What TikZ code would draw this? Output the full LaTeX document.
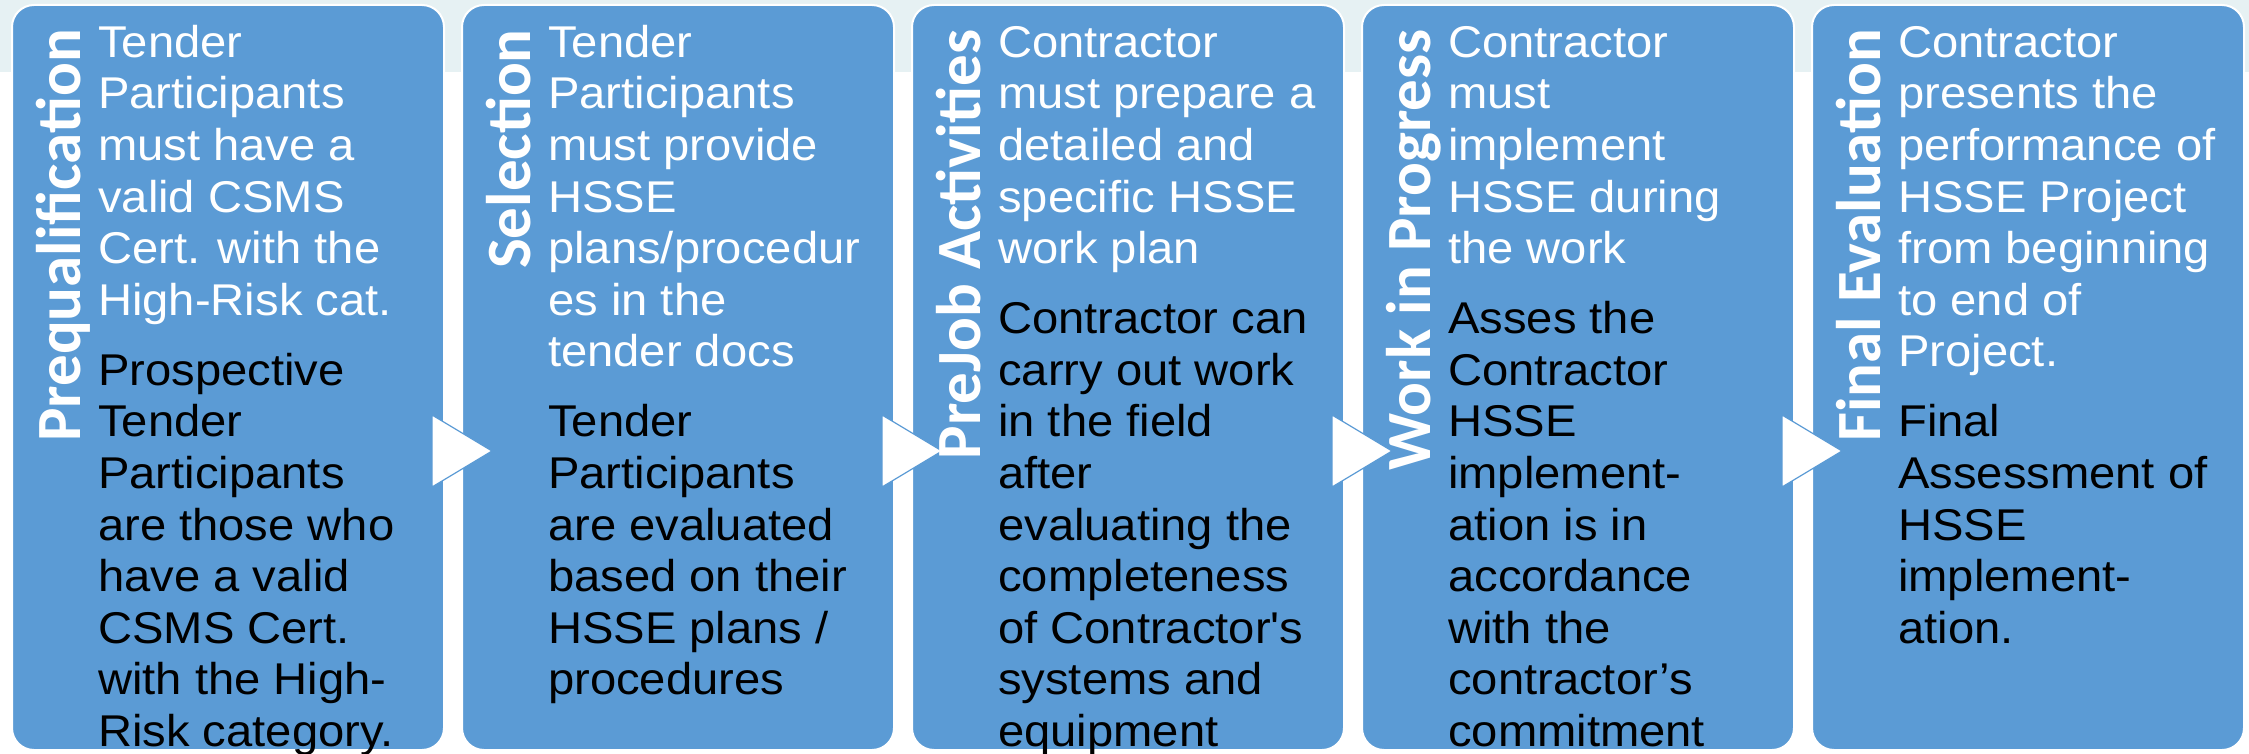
\documentclass[tikz,border=0pt]{standalone}
\usepackage{fontspec}
\setmainfont{Liberation Sans}[FakeStretch=1.06]
\newfontfamily\titlefont{Carlito}
\usetikzlibrary{positioning}
\definecolor{stageblue}{HTML}{5B9BD5}
\definecolor{bandgray}{HTML}{E6F1F3}
\tikzset{
    x=1pt, y=1pt,
    stage/.style={draw=white, line width=2pt, fill=stageblue, rounded corners=22pt,
        minimum width=432pt, minimum height=745pt, inner sep=0pt, outer sep=0pt},
    stagetitle/.style={rotate=90, anchor=base east, inner sep=0pt, text=white,
        font=\titlefont\bfseries\fontsize{63}{72}\selectfont},
    todo/.style={anchor=north west, align=left, inner sep=0pt, text=white,
        font=\fontsize{44.5}{51.6}\selectfont},
    result/.style={todo, text=black},
    flowtip/.style={draw=stageblue, line width=1.2pt, fill=white, line join=miter},
}

\begin{document}
\begin{tikzpicture}
    \useasboundingbox (0,0) rectangle (2249,-754);
    \fill[bandgray] (0,0) rectangle (2249,-72);

    \node[stage, anchor=north west] (prequal) at (12,-5) {};
    \node[stage, right=18pt of prequal] (select) {};
    \node[stage, right=18pt of select] (prejob) {};
    \node[stage, right=18pt of prejob] (progress) {};
    \node[stage, right=18pt of progress] (finaleval) {};

    \foreach \a/\b in {prequal/select, select/prejob, prejob/progress, progress/finaleval}
        \draw[flowtip] ([shift={(-12,-37.5)}]\a.east) -- ([shift={(30,-73.5)}]\b.west)
            -- ([shift={(-12,-109.5)}]\a.east) -- cycle;

    \node[stagetitle] (prequaltitle) at ([shift={(68,-24)}]prequal.north west) {Prequalification};
    \node[stagetitle] (selecttitle) at ([shift={(68,-24)}]select.north west) {Selection};
    \node[stagetitle] (prejobtitle) at ([shift={(68,-24)}]prejob.north west) {PreJob Activities};
    \node[stagetitle] (progresstitle) at ([shift={(68,-24)}]progress.north west) {Work in Progress};
    \node[stagetitle] (finalevaltitle) at ([shift={(68,-24)}]finaleval.north west) {Final Evaluation};

    \node[todo] (prequalplan) at ([shift={(86,-16)}]prequal.north west)
        {\strut Tender\\Participants\\must have a\\valid CSMS\\Cert. with the\\\strut High-Risk cat.};
    \node[result, below=18pt of prequalplan.south west, anchor=north west] (prequalcheck)
        {\strut Prospective\\Tender\\Participants\\are those who\\have a valid\\CSMS Cert.\\with the High-\\\strut Risk category.};

    \node[todo] (selectplan) at ([shift={(86,-16)}]select.north west)
        {\strut Tender\\Participants\\must provide\\HSSE\\plans/procedur\\es in the\\\strut tender docs};
    \node[result, below=18pt of selectplan.south west, anchor=north west] (selectcheck)
        {\strut Tender\\Participants\\are evaluated\\based on their\\HSSE plans /\\\strut procedures};

    \node[todo] (prejobplan) at ([shift={(86,-16)}]prejob.north west)
        {\strut Contractor\\must prepare a\\detailed and\\specific HSSE\\\strut work plan};
    \node[result, below=18pt of prejobplan.south west, anchor=north west] (prejobcheck)
        {\strut Contractor can\\carry out work\\in the field\\after\\evaluating the\\completeness\\of Contractor\textquotesingle s\\systems and\\\strut equipment};

    \node[todo] (progressplan) at ([shift={(86,-16)}]progress.north west)
        {\strut Contractor\\must\\implement\\HSSE during\\\strut the work};
    \node[result, below=18pt of progressplan.south west, anchor=north west] (progresscheck)
        {\strut Asses the\\Contractor\\HSSE\\implement-\\ation is in\\accordance\\with the\\contractor’s\\\strut commitment};

    \node[todo] (finalevalplan) at ([shift={(86,-16)}]finaleval.north west)
        {\strut Contractor\\presents the\\performance of\\HSSE Project\\from beginning\\to end of\\\strut Project.};
    \node[result, below=18pt of finalevalplan.south west, anchor=north west] (finalevalcheck)
        {\strut Final\\Assessment of\\HSSE\\implement-\\\strut ation.};
\end{tikzpicture}
\end{document}
